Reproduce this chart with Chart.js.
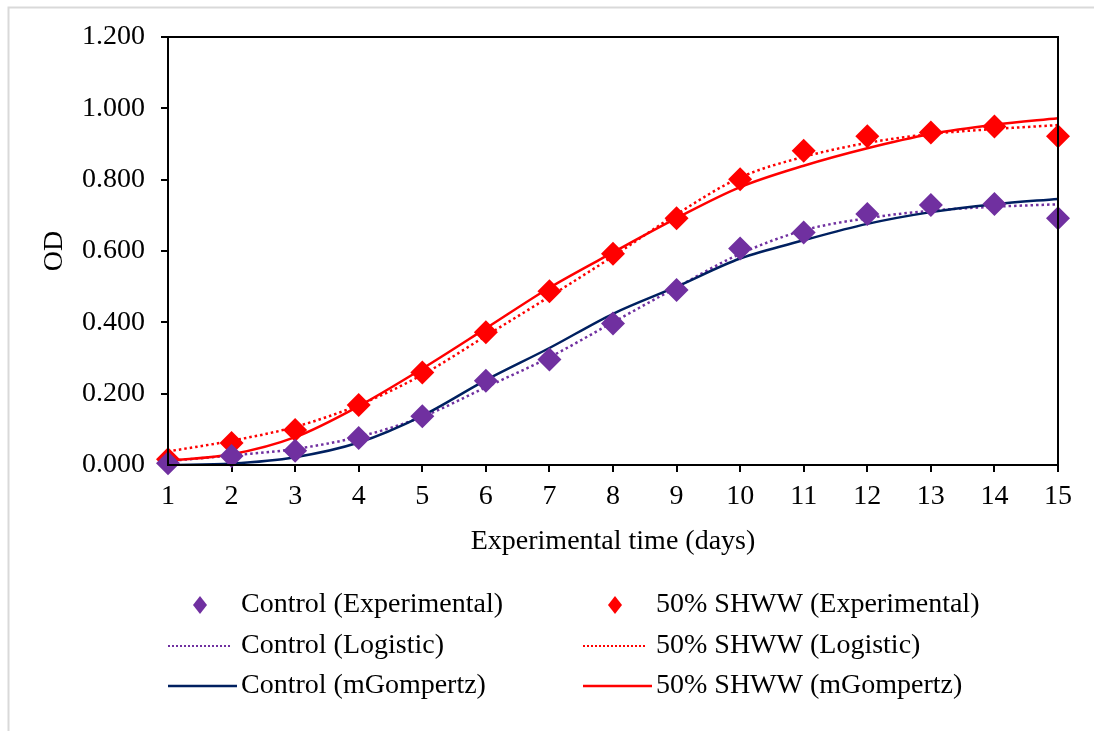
<!DOCTYPE html>
<html>
<head>
<meta charset="utf-8">
<script src="https://cdn.jsdelivr.net/npm/chart.js@4/dist/chart.umd.min.js"></script>
<style>
  html, body { margin: 0; padding: 0; background: #fff; }
  canvas { display: block; }
</style>
</head>
<body>
<canvas id="c" width="1094" height="731"></canvas>
<script>
// Experimental time (days)
const days = ['1', '2', '3', '4', '5', '6', '7', '8', '9', '10', '11', '12', '13', '14', '15'];

// Measured OD
const controlExp = [0.005, 0.025, 0.040, 0.076, 0.137, 0.236, 0.296, 0.397, 0.491, 0.607, 0.652, 0.704, 0.729, 0.732, 0.692];
const shwwExp    = [0.016, 0.062, 0.098, 0.168, 0.259, 0.372, 0.487, 0.592, 0.692, 0.801, 0.881, 0.922, 0.932, 0.949, 0.922];

// Fitted models
const controlLogistic  = [0.011, 0.027, 0.045, 0.079, 0.135, 0.218, 0.302, 0.400, 0.498, 0.592, 0.658, 0.692, 0.713, 0.724, 0.731];
const shwwLogistic     = [0.038, 0.068, 0.107, 0.168, 0.253, 0.362, 0.472, 0.585, 0.703, 0.806, 0.864, 0.903, 0.928, 0.942, 0.953];
const controlGompertz  = [0.000, 0.004, 0.022, 0.063, 0.138, 0.238, 0.328, 0.424, 0.500, 0.579, 0.630, 0.676, 0.709, 0.731, 0.746];
const shwwGompertz     = [0.012, 0.030, 0.078, 0.165, 0.270, 0.383, 0.497, 0.596, 0.692, 0.779, 0.839, 0.888, 0.928, 0.954, 0.972];

// Y axis
const yMin = 0, yMax = 1.2, yStep = 0.2;

const PURPLE = '#7030A0';
const RED = '#FF0000';
const NAVY = '#002060';
const FONT = '"Liberation Serif", "Times New Roman", serif';
const FSIZE = 28;

const legendItems = [
  { text: 'Control (Experimental)',    kind: 'diamond', color: PURPLE, x: 168, y: 605 },
  { text: '50% SHWW (Experimental)',   kind: 'diamond', color: RED,    x: 583, y: 605 },
  { text: 'Control (Logistic)',        kind: 'dotted',  color: PURPLE, x: 168, y: 646 },
  { text: '50% SHWW (Logistic)',       kind: 'dotted',  color: RED,    x: 583, y: 646 },
  { text: 'Control (mGompertz)',       kind: 'solid',   color: NAVY,   x: 168, y: 686 },
  { text: '50% SHWW (mGompertz)',      kind: 'solid',   color: RED,    x: 583, y: 686 }
];

const framePlugin = {
  id: 'frame',
  beforeDraw(chart) {
    const ctx = chart.ctx;
    ctx.save();
    ctx.fillStyle = '#fff';
    ctx.fillRect(0, 0, chart.width, chart.height);
    ctx.strokeStyle = '#d9d9d9';
    ctx.lineWidth = 2;
    ctx.beginPath();
    ctx.moveTo(8.5, chart.height);
    ctx.lineTo(8.5, 7.5);
    ctx.lineTo(chart.width, 7.5);
    ctx.stroke();
    ctx.restore();
  },
  afterDraw(chart) {
    const ctx = chart.ctx;
    const a = chart.chartArea;
    ctx.save();
    // plot box
    ctx.strokeStyle = '#000';
    ctx.lineWidth = 2;
    ctx.strokeRect(a.left, a.top, a.right - a.left, a.bottom - a.top);

    // legend
    ctx.font = FSIZE + 'px ' + FONT;
    ctx.textBaseline = 'middle';
    ctx.textAlign = 'left';
    legendItems.forEach(it => {
      ctx.save();
      if (it.kind === 'diamond') {
        const cx = it.x + 32, hw = 7, hh = 9;
        ctx.fillStyle = it.color;
        ctx.beginPath();
        ctx.moveTo(cx, it.y - hh);
        ctx.lineTo(cx + hw, it.y);
        ctx.lineTo(cx, it.y + hh);
        ctx.lineTo(cx - hw, it.y);
        ctx.closePath();
        ctx.fill();
      } else {
        ctx.strokeStyle = it.color;
        ctx.beginPath();
        if (it.kind === 'dotted') {
          ctx.lineWidth = 2;
          ctx.setLineDash([2, 2]);
          ctx.moveTo(it.x, it.y);
          ctx.lineTo(it.x + 64, it.y);
        } else {
          ctx.lineWidth = 2.5;
          ctx.moveTo(it.x, it.y);
          ctx.lineTo(it.x + 69, it.y);
        }
        ctx.stroke();
      }
      ctx.restore();
      ctx.fillStyle = '#000';
      ctx.fillText(it.text, it.x + 73, it.y);
    });
    ctx.restore();
  }
};

function expSet(label, data, color, order) {
  return {
    label, data, order,
    showLine: false,
    pointStyle: 'rectRot',
    pointRadius: 12,
    pointHoverRadius: 12,
    pointBackgroundColor: color,
    pointBorderColor: color,
    pointBorderWidth: 0,
    backgroundColor: color,
    borderColor: color,
    clip: false
  };
}

function fitSet(label, data, color, dashed, order) {
  return {
    label, data, order,
    borderColor: color,
    backgroundColor: color,
    borderWidth: 2.5,
    borderDash: dashed ? [2.5, 3] : [],
    borderCapStyle: 'butt',
    pointRadius: 0,
    pointHoverRadius: 0,
    cubicInterpolationMode: 'monotone',
    fill: false
  };
}

new Chart(document.getElementById('c'), {
  type: 'line',
  data: {
    labels: days,
    datasets: [
      expSet('Control (Experimental)', controlExp, PURPLE, 0),
      expSet('50% SHWW (Experimental)', shwwExp, RED, 1),
      fitSet('Control (Logistic)', controlLogistic, PURPLE, true, 4),
      fitSet('50% SHWW (Logistic)', shwwLogistic, RED, true, 5),
      fitSet('Control (mGompertz)', controlGompertz, NAVY, false, 2),
      fitSet('50% SHWW (mGompertz)', shwwGompertz, RED, false, 3)
    ]
  },
  options: {
    responsive: false,
    animation: false,
    devicePixelRatio: 1,
    layout: { padding: { left: 0, top: 37, right: 36, bottom: 166 } },
    plugins: {
      legend: { display: false },
      tooltip: { enabled: false },
      title: { display: false }
    },
    scales: {
      x: {
        type: 'category',
        offset: false,
        grid: {
          display: true,
          drawOnChartArea: false,
          drawTicks: true,
          tickLength: 7,
          tickWidth: 2,
          tickColor: '#000',
          color: '#000',
          lineWidth: 2,
          offset: false
        },
        border: { display: true, color: '#000', width: 2 },
        ticks: {
          color: '#000',
          font: { family: FONT, size: FSIZE },
          padding: 8,
          maxRotation: 0,
          autoSkip: false
        },
        title: {
          display: true,
          text: 'Experimental time (days)',
          color: '#000',
          font: { family: FONT, size: FSIZE },
          padding: { top: 0, bottom: 7 }
        },
        afterFit(scale) { scale.height = 100; }
      },
      y: {
        min: yMin,
        max: yMax,
        grid: {
          display: true,
          drawOnChartArea: false,
          drawTicks: true,
          tickLength: 7,
          tickWidth: 2,
          tickColor: '#000',
          color: '#000',
          lineWidth: 2
        },
        border: { display: true, color: '#000', width: 2 },
        ticks: {
          stepSize: yStep,
          color: '#000',
          font: { family: FONT, size: FSIZE },
          padding: 16,
          callback: v => Number(v).toFixed(3)
        },
        title: {
          display: true,
          text: 'OD',
          color: '#000',
          font: { family: FONT, size: FSIZE },
          padding: { top: 38, bottom: 0 }
        },
        afterFit(scale) { scale.width = 168; }
      }
    }
  },
  plugins: [framePlugin]
});
</script>
</body>
</html>
